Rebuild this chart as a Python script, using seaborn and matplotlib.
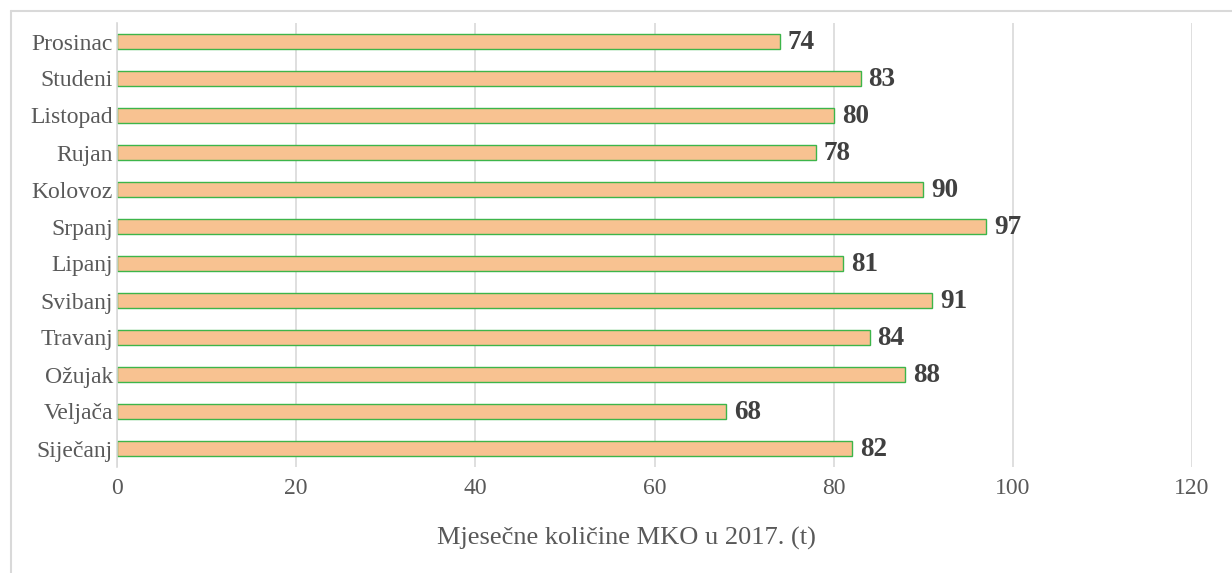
import numpy as np
import pandas as pd
import seaborn as sns
import matplotlib.pyplot as plt
from matplotlib.lines import Line2D

# monthly amounts, calendar order
months = ['Siječanj', 'Veljača', 'Ožujak', 'Travanj', 'Svibanj', 'Lipanj',
          'Srpanj', 'Kolovoz', 'Rujan', 'Listopad', 'Studeni', 'Prosinac']
amounts = [82, 68, 88, 84, 91, 81, 97, 90, 78, 80, 83, 74]
x_ticks = [0, 20, 40, 60, 80, 100, 120]

df = pd.DataFrame({'mjesec': months, 'kolicina': amounts})
order = months[::-1]  # Prosinac on top

sns.set_style('white')
plt.rcParams['font.family'] = ['Liberation Serif', 'DejaVu Serif']

fig = plt.figure(figsize=(12.32, 5.73), dpi=100)
ax = fig.add_axes([117/1232, 1 - 467/573, (1192 - 117)/1232, (467 - 23)/573])

sns.barplot(data=df, y='mjesec', x='kolicina', order=order, orient='h',
            color='#F8C291', saturation=1, width=0.4, edgecolor='#3DB54A',
            linewidth=1, ax=ax)

# value labels
for i, m in enumerate(order):
    v = df.loc[df.mjesec == m, 'kolicina'].iloc[0]
    ax.text(v + 0.9, i + 0.02, str(v), va='center', ha='left',
            fontsize=19.5, fontweight='bold', color='#404040')

ax.set_xlim(0, 120)
ax.set_xticks(x_ticks)
ax.xaxis.grid(True, color='#D9D9D9', linewidth=1.2)
ax.set_axisbelow(True)
for s in ['top', 'right', 'bottom']:
    ax.spines[s].set_visible(False)
ax.spines['left'].set_color('#D9D9D9')
ax.spines['left'].set_linewidth(1.2)
ax.tick_params(axis='both', length=0, labelsize=17, labelcolor='#595959')
ax.tick_params(axis='x', pad=8)
ax.tick_params(axis='y', pad=3)
ax.set_ylabel('')
ax.set_xlabel('Mjesečne količine MKO u 2017. (t)', fontsize=19,
              color='#595959')
ax.xaxis.set_label_coords((626 - 117) / 1075, -(538 - 467) / 444, transform=ax.transAxes)
ax.xaxis.label.set_va('center')

# outer chart frame (left and top edges)
fig.add_artist(Line2D([11/1232, 11/1232], [0, 1 - 11/573], transform=fig.transFigure,
                      color='#D9D9D9', linewidth=1.5))
fig.add_artist(Line2D([11/1232, 1], [1 - 11/573, 1 - 11/573], transform=fig.transFigure,
                      color='#D9D9D9', linewidth=1.5))

fig.savefig('out.png', dpi=100)
